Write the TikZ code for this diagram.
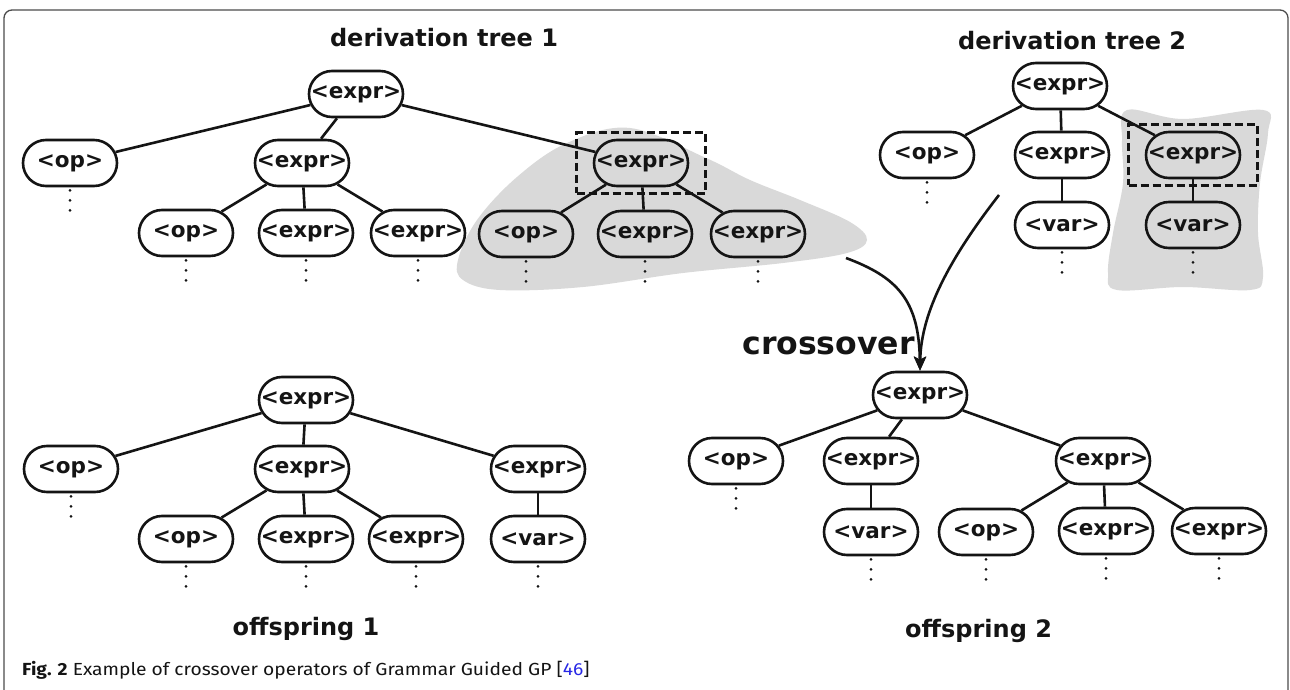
\documentclass[tikz,border=0pt]{standalone}
\usepackage{fontspec}
\usetikzlibrary{shapes.misc,arrows.meta,fit}
\newfontfamily\dv{DejaVu Sans}
\newfontfamily\capf{Fira Sans}[FakeStretch=1.1]
\definecolor{blob}{RGB}{217,217,217}
\definecolor{ink}{RGB}{20,20,20}
\definecolor{linkblue}{RGB}{40,40,230}
\newcommand\nt[1]{\makebox[0pt]{<#1>}}
\newcommand\vd[1]{\foreach \dy in {3,13,23}{\fill[ink] ([yshift=-\dy pt]#1.south) circle[radius=1.5pt];}}
\tikzset{
  tn/.style={rounded rectangle, draw=ink, line width=2.6pt, minimum width=94pt, minimum height=46pt, inner sep=0pt, font=\dv\bfseries\fontsize{21.5}{24}\selectfont, text=ink},
  ed/.style={line width=2.6pt, draw=ink},
  ttl/.style={font=\dv\bfseries\fontsize{24}{28}\selectfont, text=ink, inner sep=0pt},
  dashbox/.style={draw=ink, line width=2.6pt, dash pattern=on 8pt off 4pt, inner xsep=16pt, inner ysep=6pt},
  xarrow/.style={line width=2.6pt, draw=ink, -{Stealth[length=14pt,width=12pt,inset=3pt]}},
}
\begin{document}
\begin{tikzpicture}[x=1pt,y=-1pt]
\useasboundingbox (0,0) rectangle (1290,690);
\fill[white] (0,0) rectangle (1290,690);
% frame
\draw[black!70, line width=1.3pt, rounded corners=8pt] (4,720) -- (4,10) -- (1288,10) -- (1288,720);
% blobs
\fill[blob] plot[smooth cycle, tension=0.6] coordinates {(630,128) (706,158) (750,180) (800,200) (850,222) (867,240) (847,253) (783,263) (683,273) (583,287) (500,290) (463,280) (458,260) (477,220) (517,177) (567,143)};
\fill[blob] plot[smooth cycle, tension=0.6] coordinates {(1127,110) (1183,119) (1263,110) (1268,133) (1260,183) (1258,233) (1263,277) (1250,290) (1183,287) (1117,290) (1108,273) (1113,233) (1123,183) (1122,140)};
% titles
\node[ttl, anchor=base] (title1) at (444,47) {derivation tree 1};
\node[ttl, anchor=base west] (title2) at (958,50) {derivation tree 2};
\node[ttl, anchor=base] (title3) at (306,635) {offspring 1};
\node[ttl, anchor=base west] (title4) at (905,637) {offspring 2};
\node[font=\dv\bfseries\fontsize{31.5}{34}\selectfont, text=ink, inner sep=0pt, anchor=base east] (xlabel) at (915,354) {crossover};
% tree 1
\node[tn] (t1r) at (356,94) {\nt{expr}};
\node[tn] (t1a) at (70,163) {\nt{op}};
\node[tn] (t1b) at (302,163) {\nt{expr}};
\node[tn] (t1c) at (641,163) {\nt{expr}};
\node[tn] (t1ba) at (186,233) {\nt{op}};
\node[tn] (t1bb) at (306,233) {\nt{expr}};
\node[tn] (t1bc) at (418,233) {\nt{expr}};
\node[tn] (t1ca) at (526,234) {\nt{op}};
\node[tn] (t1cb) at (645,234) {\nt{expr}};
\node[tn] (t1cc) at (758,234) {\nt{expr}};
\foreach \c in {t1a,t1b,t1c} \draw[ed] (t1r) -- (\c);
\foreach \c in {t1ba,t1bb,t1bc} \draw[ed] (t1b) -- (\c);
\foreach \c in {t1ca,t1cb,t1cc} \draw[ed] (t1c) -- (\c);
\foreach \c in {t1a,t1ba,t1bb,t1bc,t1ca,t1cb,t1cc} {\vd{\c}}
\node[dashbox, fit=(t1c)] (d1) {};
% tree 2
\node[tn] (t2r) at (1060,86) {\nt{expr}};
\node[tn] (t2a) at (927,155) {\nt{op}};
\node[tn] (t2b) at (1062,155) {\nt{expr}};
\node[tn] (t2c) at (1193,155) {\nt{expr}};
\node[tn] (t2ba) at (1062,225) {\nt{var}};
\node[tn] (t2ca) at (1193,225) {\nt{var}};
\foreach \c in {t2a,t2b,t2c} \draw[ed] (t2r) -- (\c);
\draw[ed] (t2b) -- (t2ba);
\draw[ed] (t2c) -- (t2ca);
\foreach \c in {t2a,t2ba,t2ca} {\vd{\c}}
\node[dashbox, fit=(t2c)] (d2) {};
% offspring 1
\node[tn] (o1r) at (306,400) {\nt{expr}};
\node[tn] (o1a) at (71,469) {\nt{op}};
\node[tn] (o1b) at (302,469) {\nt{expr}};
\node[tn] (o1c) at (538,469) {\nt{expr}};
\node[tn] (o1ba) at (186,539) {\nt{op}};
\node[tn] (o1bb) at (306,539) {\nt{expr}};
\node[tn] (o1bc) at (416,539) {\nt{expr}};
\node[tn] (o1ca) at (538,539) {\nt{var}};
\foreach \c in {o1a,o1b,o1c} \draw[ed] (o1r) -- (\c);
\foreach \c in {o1ba,o1bb,o1bc} \draw[ed] (o1b) -- (\c);
\draw[ed] (o1c) -- (o1ca);
\foreach \c in {o1a,o1ba,o1bb,o1bc,o1ca} {\vd{\c}}
% offspring 2
\node[tn] (o2r) at (920,395) {\nt{expr}};
\node[tn] (o2a) at (736,461) {\nt{op}};
\node[tn] (o2b) at (871,461) {\nt{expr}};
\node[tn] (o2c) at (1103,461) {\nt{expr}};
\node[tn] (o2ba) at (871,532) {\nt{var}};
\node[tn] (o2ca) at (986,532) {\nt{op}};
\node[tn] (o2cb) at (1106,531) {\nt{expr}};
\node[tn] (o2cc) at (1219,531) {\nt{expr}};
\foreach \c in {o2a,o2b,o2c} \draw[ed] (o2r) -- (\c);
\draw[ed] (o2b) -- (o2ba);
\foreach \c in {o2ca,o2cb,o2cc} \draw[ed] (o2c) -- (\c);
\foreach \c in {o2a,o2ba,o2ca,o2cb,o2cc} {\vd{\c}}
% crossover arrows
\coordinate (s1) at (846,258);
\coordinate (s2) at (999,195);
\draw[xarrow] (s1) .. controls (897,277) and (919,300) .. (o2r.north);
\draw[xarrow] (s2) .. controls (950,258) and (921,312) .. (o2r.north);
% caption
\node[font=\capf\fontsize{17.5}{20}\selectfont, text=ink, inner sep=0pt, anchor=base west] (cap) at (22,675) {\textbf{Fig. 2} Example of crossover operators of Grammar Guided GP [\textcolor{linkblue}{46}]};
\end{tikzpicture}
\end{document}
